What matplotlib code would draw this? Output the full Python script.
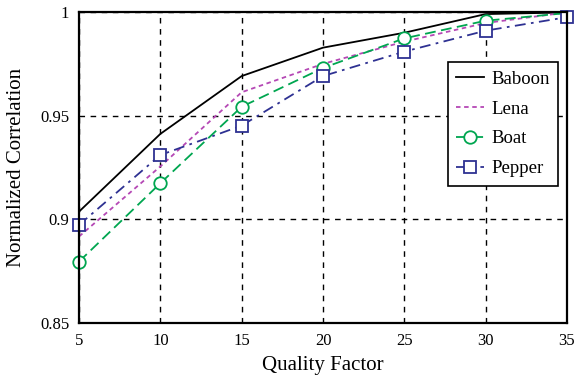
import matplotlib.pyplot as plt
import numpy as np

plt.rcParams['font.family'] = ['Liberation Serif', 'DejaVu Serif']

# quality factor and normalized correlation per image
quality = [5, 10, 15, 20, 25, 30, 35]
baboon = [0.9037, 0.9412, 0.9691, 0.9828, 0.9900, 0.9990, 0.9998]
lena = [0.8917, 0.9255, 0.9613, 0.9750, 0.9857, 0.9947, 0.9998]
boat = [0.8796, 0.9174, 0.9543, 0.9730, 0.9873, 0.9958, 0.9995]
pepper = [0.8973, 0.9310, 0.9452, 0.9691, 0.9809, 0.9910, 0.9975]

fig = plt.figure(figsize=(5.74, 3.79), dpi=100)
ax = fig.add_axes([79 / 574, 1 - 323 / 379, (567 - 79) / 574, (323 - 12) / 379])

ax.plot(quality, baboon, "-", color="black", lw=1.3, label="Baboon")
ax.plot(quality, lena, "--", color="#b548b5", lw=1.3, dashes=(2.5, 2), label="Lena")
ax.plot(quality, boat, "--", color="#00a650", lw=1.3, dashes=(6, 3),
        marker="o", ms=9, mfc="white", mec="#00a650", mew=1.3,
        markevery=[0, 1, 2, 3, 4, 5], label="Boat", clip_on=False)
ax.plot(quality, pepper, "-.", color="#2e3192", lw=1.3, dashes=(6, 3, 1.5, 3),
        marker="s", ms=8.5, mfc="white", mec="#2e3192", mew=1.3,
        label="Pepper", clip_on=False)

ax.set_xlim(5, 35)
ax.set_ylim(0.85, 1)
ax.set_xticks(quality)
ax.set_yticks([0.85, 0.9, 0.95, 1])
ax.set_yticklabels(["0.85", "0.9", "0.95", "1"])
ax.grid(True, color="black", ls=(0, (4, 4)), lw=1)
ax.tick_params(length=0, labelsize=12, pad=7)
for s in ax.spines.values():
    s.set_linewidth(1.6)
    s.set_zorder(3)

ax.set_xlabel("Quality Factor", fontsize=15, labelpad=5)
ax.set_ylabel("Normalized Correlation", fontsize=15, labelpad=10)

leg = ax.legend(loc="upper right", bbox_to_anchor=(0.9816, 0.839), borderaxespad=0,
                fontsize=13.5, fancybox=False, framealpha=1, edgecolor="black",
                handlelength=1.45, handletextpad=0.4, labelspacing=0.68, borderpad=0.45)
leg.get_frame().set_linewidth(1.2)

plt.savefig("out.png", dpi=100)
